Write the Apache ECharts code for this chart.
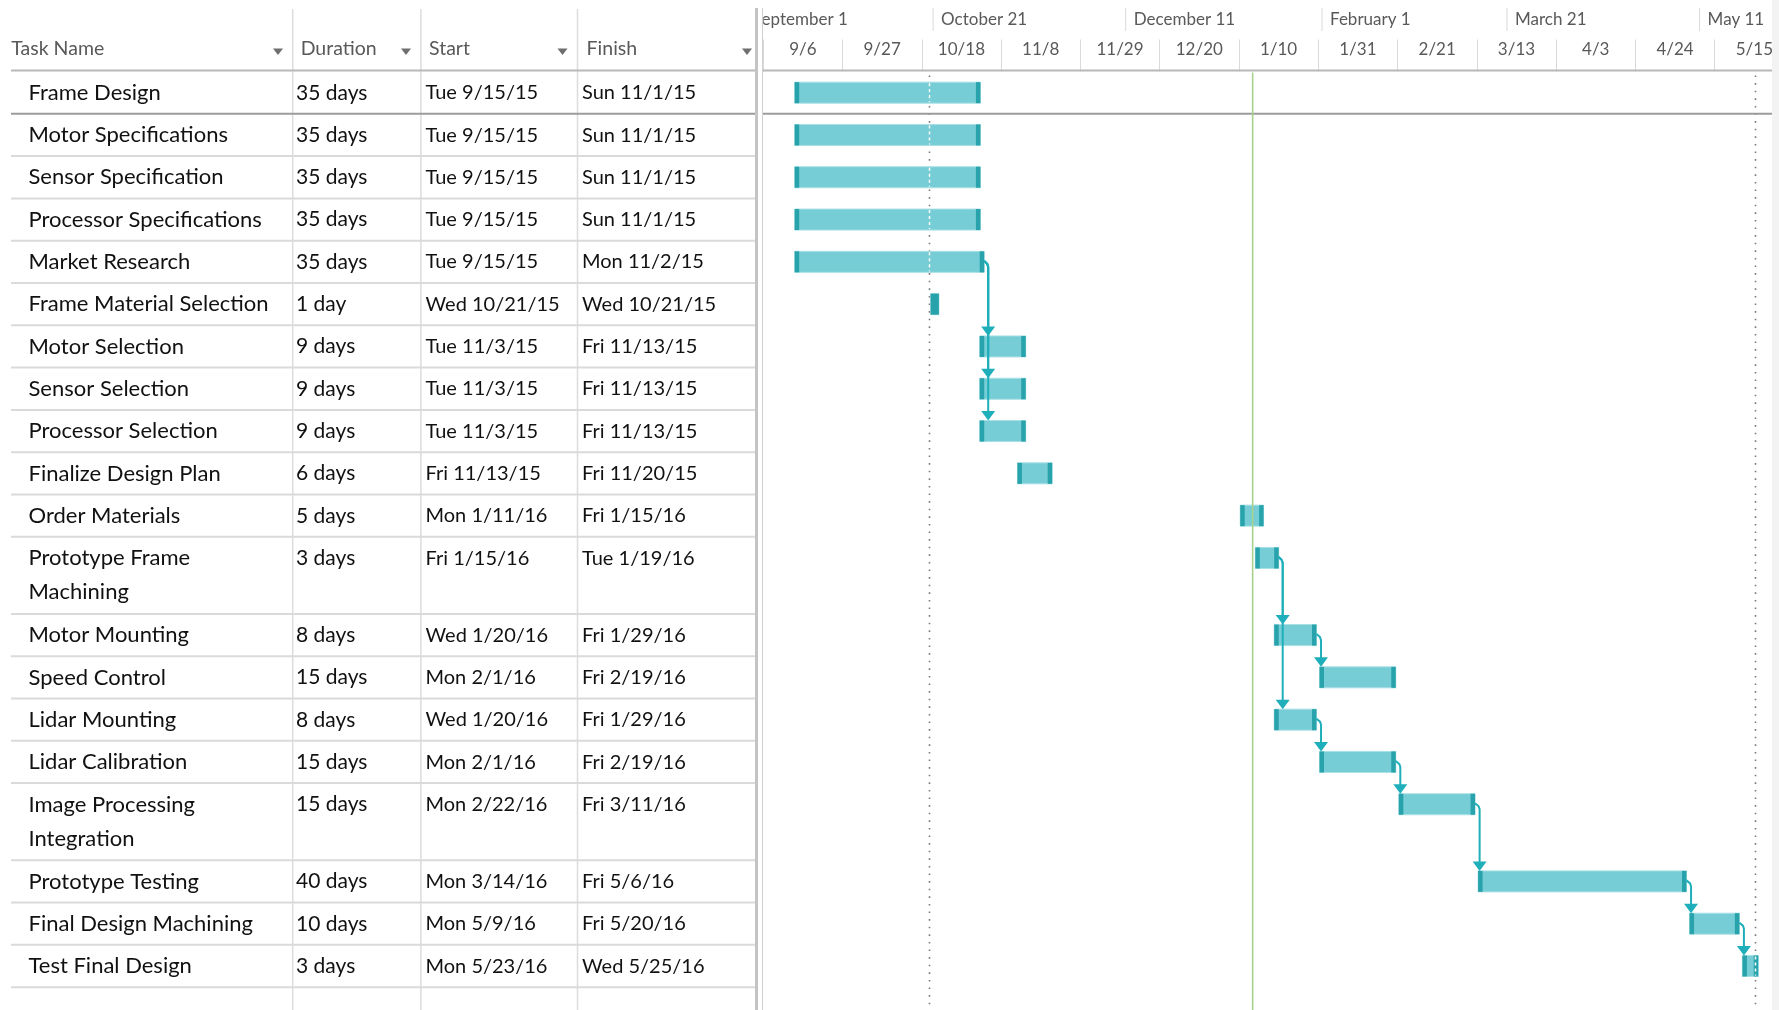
<!DOCTYPE html>
<html>
<head>
<meta charset="utf-8">
<script src="https://cdn.jsdelivr.net/npm/echarts@6/dist/echarts.min.js"></script>
<style>
html,body{margin:0;padding:0;overflow:hidden;background:#fff}
#c{width:1800px;height:1010px}
</style>
</head>
<body>
<div id="c"></div>
<script>
// ---------------- DATA ----------------
const taskNames = ['Frame Design','Motor Specifications','Sensor Specification','Processor Specifications','Market Research','Frame Material Selection','Motor Selection','Sensor Selection','Processor Selection','Finalize Design Plan','Order Materials','Prototype Frame Machining','Motor Mounting','Speed Control','Lidar Mounting','Lidar Calibration','Image Processing Integration','Prototype Testing','Final Design Machining','Test Final Design'];
const durations = ['35 days','35 days','35 days','35 days','35 days','1 day','9 days','9 days','9 days','6 days','5 days','3 days','8 days','15 days','8 days','15 days','15 days','40 days','10 days','3 days'];
const startLabels = ['Tue 9/15/15','Tue 9/15/15','Tue 9/15/15','Tue 9/15/15','Tue 9/15/15','Wed 10/21/15','Tue 11/3/15','Tue 11/3/15','Tue 11/3/15','Fri 11/13/15','Mon 1/11/16','Fri 1/15/16','Wed 1/20/16','Mon 2/1/16','Wed 1/20/16','Mon 2/1/16','Mon 2/22/16','Mon 3/14/16','Mon 5/9/16','Mon 5/23/16'];
const finishLabels = ['Sun 11/1/15','Sun 11/1/15','Sun 11/1/15','Sun 11/1/15','Mon 11/2/15','Wed 10/21/15','Fri 11/13/15','Fri 11/13/15','Fri 11/13/15','Fri 11/20/15','Fri 1/15/16','Tue 1/19/16','Fri 1/29/16','Fri 2/19/16','Fri 1/29/16','Fri 2/19/16','Fri 3/11/16','Fri 5/6/16','Fri 5/20/16','Wed 5/25/16'];
const linkFrom = [4,4,4,11,11,12,14,15,16,17,18];
const linkTo   = [6,7,8,12,14,13,15,16,17,18,19];
const headerLabels = ['Task Name','Duration','Start','Finish'];
const scaleStart = '2015-09-06';
const unitDays = 21;
const weekTickLabels = ['9/6','9/27','10/18','11/8','11/29','12/20','1/10','1/31','2/21','3/13','4/3','4/24','5/15'];
const topTierLabels = ['September 1','October 21','December 11','February 1','March 21','May 11'];
const topTierDates = ['2015-09-01','2015-10-21','2015-12-11','2016-02-01','2016-03-21','2016-05-11'];
const currentDate = '2016-01-13T15:00';
const dottedDates = ['2015-10-20T00:00','2016-05-25T15:00'];

// ---------------- HELPERS ----------------
const MS = 86400000;
const [oy, om, od] = scaleStart.split('-').map(Number);
const ORIGIN = Date.UTC(oy, om - 1, od);
function isoDay(iso) {
  const [dp, tp] = iso.split('T');
  const [y, m, d] = dp.split('-').map(Number);
  let v = (Date.UTC(y, m - 1, d) - ORIGIN) / MS;
  if (tp) { const [h, mi] = tp.split(':').map(Number); v += (h + mi / 60) / 24; }
  return v;
}
function labelDay(lbl) {
  const [m, d, y] = lbl.split(' ')[1].split('/').map(Number);
  return (Date.UTC(2000 + y, m - 1, d) - ORIGIN) / MS;
}
const startDay = startLabels.map(labelDay);
const endDay = finishLabels.map(l => labelDay(l) + 1);
const topTierDays = topTierDates.map(isoDay);
const currentDay = isoDay(currentDate);
const dottedDays = dottedDates.map(isoDay);
const axisMax = weekTickLabels.length * unitDays;

const FONT = 'Lato';
const NAME_FS = 22, DUR_FS = 21, DATE_FS = 20;
const NAME_W = 252;
const ctx = document.createElement('canvas').getContext('2d');
ctx.font = NAME_FS + 'px ' + FONT;
function wrap(s) {
  const words = s.split(' '); const lines = []; let line = '';
  words.forEach(w => {
    const t = line ? line + ' ' + w : w;
    if (line && ctx.measureText(t).width > NAME_W) { lines.push(line); line = w; } else line = t;
  });
  lines.push(line);
  return lines;
}
const wrapped = taskNames.map(wrap);
const rowUnits = wrapped.map(l => l.length === 1 ? 1 : 1.823);
const rowTop = []; let acc = 0;
rowUnits.forEach(u => { rowTop.push(acc); acc += u; });

const GRID_TOP = 71.5, UNIT_PX = 42.3, H = 1010;
const yMax = (H - GRID_TOP) / UNIT_PX;

const BAR_FILL = '#76CDD5', BAR_CAP = '#28A3AC', LINK = '#1FAFBA', TXT = '#111111';

// ---------------- CHART ----------------
const chart = echarts.init(document.getElementById('c'));

const graphics = [];
[292.7, 420.9, 577.5].forEach(x => graphics.push({type:'line', z:1, shape:{x1:x,y1:9,x2:x,y2:H}, style:{stroke:'#dcdcdc', lineWidth:1.5}}));
graphics.push({type:'rect', z:20, shape:{x:755, y:8, width:3, height:H}, style:{fill:'#c4c4c4'}});
graphics.push({type:'rect', z:20, shape:{x:758, y:8, width:4, height:H}, style:{fill:'#ffffff'}});
graphics.push({type:'line', z:20, shape:{x1:762.5,y1:8,x2:762.5,y2:H}, style:{stroke:'#cfcfcf', lineWidth:1}});
graphics.push({type:'line', z:3, shape:{x1:11,y1:70.5,x2:1772,y2:70.5}, style:{stroke:'#b8b8b8', lineWidth:2}});
graphics.push({type:'rect', z:30, shape:{x:1772, y:0, width:28, height:H}, style:{fill:'#f3f3f3'}});
const headerX = [11.3, 300.7, 429, 586.6];
const arrowX = [278, 406, 562.5, 747];
headerLabels.forEach((t, i) => {
  graphics.push({type:'text', z:5, x:headerX[i], y:49, style:{text:t, fontSize:19.5, fontFamily:FONT, fill:'#595959', verticalAlign:'middle'}});
  graphics.push({type:'polygon', z:5, shape:{points:[[arrowX[i]-5,48.5],[arrowX[i]+5,48.5],[arrowX[i],55]]}, style:{fill:'#6e6e6e'}});
});

function yc(i, api) { return api.coord([0, rowTop[i] + 0.5])[1]; }

const option = {
  animation: false,
  backgroundColor: '#ffffff',
  grid: {left: 763.2, right: 6, top: GRID_TOP, bottom: 0, containLabel: false, outerBoundsMode: 'none'},
  xAxis: [
    {type:'value', min:0, max:axisMax, position:'top', show:false},
    {type:'category', data: weekTickLabels, boundaryGap: true, position:'top',
     axisLine:{show:false},
     axisTick:{show:true, interval:0, length:32, lineStyle:{color:'#d9d9d9', width:1}},
     axisLabel:{interval:0, margin:13, color:'#595959', fontSize:17, fontFamily:FONT},
     splitLine:{show:false}}
  ],
  yAxis: {type:'value', inverse:true, min:0, max:yMax, show:false},
  graphic: graphics,
  series: [
    { // table rows
      type:'custom', name:'table', clip:false, z:2, xAxisIndex:0,
      data: taskNames.map((_, i) => [i, rowTop[i]]),
      renderItem(params, api) {
        const i = api.value(0);
        const yTop = api.coord([0, rowTop[i]])[1];
        const yBot = api.coord([0, rowTop[i] + rowUnits[i]])[1];
        const txt = (x, s, fs) => ({type:'text', x, y: yTop + 4.3, style:{text:s, fill:TXT, fontSize:fs, fontFamily:FONT, lineHeight:34, verticalAlign:'top', align:'left'}});
        return {type:'group', children:[
          txt(28.5, wrapped[i].join('\n'), NAME_FS), txt(296, durations[i], DUR_FS), txt(425.5, startLabels[i], DATE_FS), txt(582, finishLabels[i], DATE_FS),
          {type:'line', shape:{x1:11, y1:yBot, x2: i === 0 ? 1772 : 757, y2:yBot}, style:{stroke: i === 0 ? '#9c9c9c' : '#dadada', lineWidth:2}}
        ]};
      }
    },
    { // top tier timescale
      type:'custom', name:'toptier', clip:false, z:2, xAxisIndex:0,
      data: topTierDays.map((d, i) => [d, i]),
      renderItem(params, api) {
        const i = api.value(1);
        const x = api.coord([api.value(0), 0])[0];
        const cs = params.coordSys;
        return {type:'group', clipPath:{type:'rect', shape:{x:cs.x, y:0, width:cs.width, height:cs.y}}, children:[
          {type:'line', shape:{x1:x, y1:8, x2:x, y2:31}, style:{stroke:'#d9d9d9', lineWidth:1}},
          {type:'text', x:x + 8, y:20, style:{text:topTierLabels[i], fontSize:17, fontFamily:FONT, fill:'#595959', verticalAlign:'middle'}}
        ]};
      }
    },
    { // dotted date lines
      type:'custom', name:'dotted', clip:false, z:1, xAxisIndex:0,
      data: dottedDays.map((d, i) => [d, i]),
      renderItem(params, api) {
        const x = Math.round(api.coord([api.value(0), 0])[0]) + 0.5;
        const cs = params.coordSys;
        return {type:'line', shape:{x1:x, y1:cs.y + 4, x2:x, y2:cs.y + cs.height}, style:{stroke:'#7a7a7a', lineWidth:1.6, lineDash:[1.6, 6]}};
      }
    },
    { // task bars
      type:'custom', name:'bars', clip:false, z:3, xAxisIndex:0,
      data: taskNames.map((_, i) => [startDay[i], endDay[i], i]),
      renderItem(params, api) {
        const s = api.value(0), e = api.value(1), i = api.value(2);
        const x0 = api.coord([s, 0])[0] - 2.5;
        const x1 = api.coord([e, 0])[0] + 2;
        const y = yc(i, api);
        const h = 21, cap = 4.5;
        const ch = [
          {type:'rect', shape:{x:x0, y:y - h/2, width:x1 - x0, height:h}, style:{fill:BAR_FILL, stroke:'#a9e0e5', lineWidth:1}},
          {type:'rect', shape:{x:x0, y:y - h/2, width:cap, height:h}, style:{fill:BAR_CAP}},
          {type:'rect', shape:{x:x1 - cap, y:y - h/2, width:cap, height:h}, style:{fill:BAR_CAP}}
        ];
        dottedDays.forEach(d => {
          const xd = Math.round(api.coord([d, 0])[0]) + 0.5;
          if (xd > x0 && xd < x1) ch.push({type:'line', shape:{x1:xd, y1:y - h/2 + 1, x2:xd, y2:y + h/2 - 1}, style:{stroke:'#ffffff', lineWidth:1.5, lineDash:[3, 3]}});
        });
        return {type:'group', children: ch};
      }
    },
    { // dependency links
      type:'custom', name:'links', clip:false, z:4, xAxisIndex:0,
      data: linkFrom.map((f, k) => [f, linkTo[k]]),
      renderItem(params, api) {
        const f = api.value(0), t = api.value(1);
        const xe = api.coord([endDay[f], 0])[0] + 2;
        const xs = api.coord([startDay[t], 0])[0] - 2.5;
        const xl = Math.max(xe + 4, xs + 1.5);
        const y0 = yc(f, api);
        const yTop = yc(t, api) - 10.5;
        return {type:'group', children:[
          {type:'polyline', shape:{points:[[xe, y0 - 1], [xl - 1, y0 + 2], [xl, y0 + 5], [xl, yTop - 8]]}, style:{stroke:LINK, lineWidth:2, fill:null}},
          {type:'polygon', shape:{points:[[xl - 7, yTop - 9.5], [xl + 7, yTop - 9.5], [xl, yTop]]}, style:{fill:LINK}}
        ]};
      }
    },
    { // current date line
      type:'custom', name:'current', clip:false, z:5, xAxisIndex:0,
      data: [[currentDay, 0]],
      renderItem(params, api) {
        const x = api.coord([api.value(0), 0])[0];
        const cs = params.coordSys;
        return {type:'line', shape:{x1:x, y1:cs.y + 1, x2:x, y2:cs.y + cs.height}, style:{stroke:'#A9D18E', lineWidth:1.6}};
      }
    }
  ]
};
chart.setOption(option);
</script>
</body>
</html>
